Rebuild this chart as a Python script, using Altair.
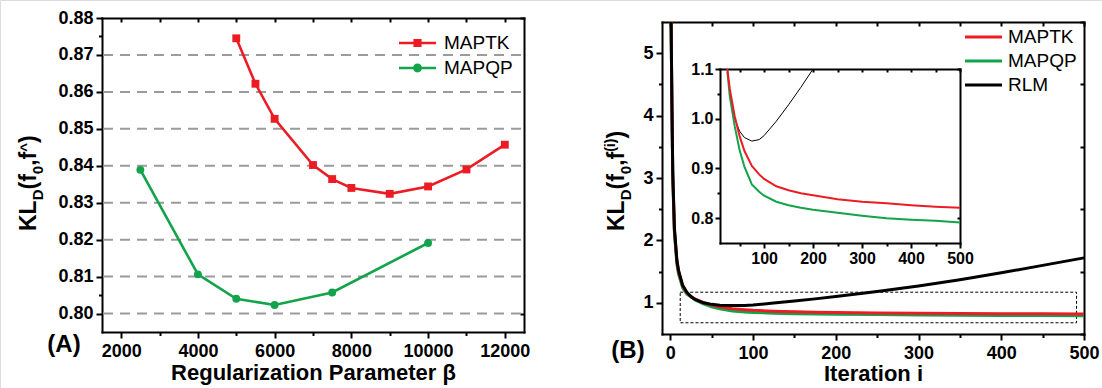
import altair as alt
import pandas as pd

FONT = "Liberation Sans"
RED = "#EC1C24"
GREEN = "#12A34B"
BLACK = "#000000"

# ---------------- Panel A data ----------------
beta_maptk = [5000, 5500, 6000, 7000, 7500, 8000, 9000, 10000, 11000, 12000]
kl_maptk_a = [0.8745, 0.8622, 0.8527, 0.8402, 0.8364, 0.8340, 0.8324, 0.8344, 0.8390, 0.8457]
beta_mapqp = [2500, 4000, 5000, 6000, 7500, 10000]
kl_mapqp_a = [0.8389, 0.8106, 0.8040, 0.8023, 0.8057, 0.8191]
grid_a = [0.80, 0.81, 0.82, 0.83, 0.84, 0.85, 0.86, 0.87]

# ---------------- Panel B data ----------------
iters = [1, 2, 3, 5, 8, 10, 15, 20, 25, 30, 40, 50, 60, 75, 90, 100, 125, 150, 175, 200,
         250, 300, 350, 400, 450, 500]
kl_maptk = [7.5, 4.15, 3.05, 2.16, 1.66, 1.5, 1.27, 1.16, 1.1, 1.06, 1.005, 0.965, 0.935, 0.905,
            0.888, 0.879, 0.864, 0.856, 0.85, 0.846, 0.838, 0.833, 0.83, 0.826, 0.823, 0.821]
kl_mapqp = [7.4, 4.1, 3.0, 2.12, 1.62, 1.46, 1.24, 1.14, 1.095, 1.045, 0.985, 0.937, 0.903, 0.868,
            0.853, 0.845, 0.833, 0.826, 0.821, 0.817, 0.811, 0.805, 0.800, 0.797, 0.795, 0.791]
kl_rlm = [7.6, 4.2, 3.1, 2.2, 1.68, 1.52, 1.28, 1.17, 1.10, 1.055, 1.0, 0.975, 0.962, 0.955,
          0.958, 0.966, 0.995, 1.028, 1.063, 1.10, 1.18, 1.27, 1.37, 1.48, 1.60, 1.72]
series_b = ["MAPTK", "MAPQP", "RLM"]
box_iter = [12, 491]
box_kl = [0.68, 1.17]

# ---------------- scales (pixel ranges place each panel) ----------------
sxA = alt.Scale(domain=[1500, 12500], range=[102, 524], nice=False, zero=False)
syA = alt.Scale(domain=[0.795, 0.88], range=[332, 18], nice=False, zero=False)
sxB = alt.Scale(domain=[-10, 500], range=[662, 1084], nice=False, zero=False)
syB = alt.Scale(domain=[0.5, 5.5], range=[334, 22], nice=False, zero=False, clamp=True)
sxI = alt.Scale(domain=[10, 500], range=[720, 960], nice=False, zero=False)
syI = alt.Scale(domain=[0.75, 1.1], range=[243, 69], nice=False, zero=False)

H = 388
ONE = alt.Data(values=[{}])

AX = dict(domainColor=BLACK, domainWidth=2, domainCap="square", tickColor=BLACK, tickWidth=2,
          labelFont=FONT, labelFontWeight="bold", labelColor=BLACK, labelFontSize=18,
          grid=False, title=None, labelOverlap=False, labelFlush=False, format="d")

layers = []


def axis_layer(vals, channel, scale, **kw):
    opts = dict(AX)
    opts["values"] = vals
    opts.update(kw)
    df = pd.DataFrame({"v": vals})
    if channel == "x":
        enc = {"x": alt.X("v:Q", scale=scale, axis=alt.Axis(**opts))}
    else:
        enc = {"y": alt.Y("v:Q", scale=scale, axis=alt.Axis(**opts))}
    return alt.Chart(df).mark_point(opacity=0).encode(**enc)


# ================= Panel A =================
layers.append(
    alt.Chart(pd.DataFrame({"v": grid_a})).mark_rule(color="#9b9b9b", strokeWidth=2, strokeDash=[10, 7])
    .encode(y=alt.Y("v:Q", scale=syA, axis=None), x=alt.value(103), x2=alt.value(523))
)
dfa_tk = pd.DataFrame({"b": beta_maptk, "k": kl_maptk_a})
dfa_qp = pd.DataFrame({"b": beta_mapqp, "k": kl_mapqp_a})
for df, col, shp, sz in [(dfa_tk, RED, "square", 62), (dfa_qp, GREEN, "circle", 62)]:
    layers.append(alt.Chart(df).mark_line(color=col, strokeWidth=2.6).encode(
        x=alt.X("b:Q", scale=sxA, axis=None), y=alt.Y("k:Q", scale=syA, axis=None)))
    layers.append(alt.Chart(df).mark_point(shape=shp, filled=True, size=sz, color=col, opacity=1).encode(
        x=alt.X("b:Q", scale=sxA, axis=None), y=alt.Y("k:Q", scale=syA, axis=None)))

# axes A
layers.append(axis_layer([2000, 4000, 6000, 8000, 10000, 12000], "x", sxA, orient="bottom", offset=332 - H,
                         tickSize=6, labelPadding=4, title="Regularization Parameter β",
                         titleFont=FONT, titleFontSize=22, titleFontWeight="bold", titleColor=BLACK,
                         titlePadding=2))
layers.append(axis_layer([3000, 5000, 7000, 9000, 11000], "x", sxA, orient="bottom", offset=332 - H,
                         tickSize=3.5, labels=False, domain=False))
layers.append(axis_layer(list(range(2000, 12001, 1000)), "x", sxA, orient="bottom", offset=18 - H,
                         tickSize=4, labels=False))
layers.append(axis_layer([0.80, 0.81, 0.82, 0.83, 0.84, 0.85, 0.86, 0.87, 0.88], "y", syA, orient="left",
                         offset=-102, tickSize=6, labelPadding=3, format=".2f"))
layers.append(axis_layer([0.805, 0.815, 0.825, 0.835, 0.845, 0.855, 0.865, 0.875], "y", syA, orient="left",
                         offset=-102, tickSize=3.5, labels=False, domain=False))
layers.append(axis_layer([round(0.80 + 0.005 * k, 3) for k in range(17)], "y", syA, orient="left",
                         offset=-524, tickSize=4, labels=False))

# legend A
SQ = "M-1,-0.07H1V0.07H-1Z M-0.22,-0.22H0.22V0.22H-0.22Z"
CI = "M-1,-0.07H1V0.07H-1Z M0.24,0A0.24,0.24 0 1,1 -0.24,0A0.24,0.24 0 1,1 0.24,0Z"
legA = alt.Legend(orient="none", legendX=399, legendY=31, title=None, direction="vertical",
                  labelFont=FONT, labelFontSize=19, labelColor=BLACK, symbolSize=1369,
                  symbolStrokeWidth=0, clipHeight=24, rowPadding=1, labelOffset=8, padding=0)
layers.append(
    alt.Chart(pd.DataFrame({"s": ["MAPTK", "MAPQP"]})).transform_filter("false")
    .mark_point(filled=True, size=1369, opacity=1)
    .encode(color=alt.Color("s:N", scale=alt.Scale(domain=["MAPTK", "MAPQP"], range=[RED, GREEN]), legend=legA),
            shape=alt.Shape("s:N", scale=alt.Scale(domain=["MAPTK", "MAPQP"], range=[SQ, CI]), legend=legA))
)

# ================= Panel B =================
dfb = pd.DataFrame({
    "i": iters * 3,
    "k": kl_maptk + kl_mapqp + kl_rlm,
    "s": ["MAPTK"] * len(iters) + ["MAPQP"] * len(iters) + ["RLM"] * len(iters),
})
layers.append(
    alt.Chart(pd.DataFrame({"x0": [box_iter[0]], "x1": [box_iter[1]], "y0": [box_kl[0]], "y1": [box_kl[1]]}))
    .mark_rect(fill="transparent", stroke=BLACK, strokeWidth=1, strokeDash=[3, 2])
    .encode(x=alt.X("x0:Q", scale=sxB, axis=None), x2="x1:Q",
            y=alt.Y("y0:Q", scale=syB, axis=None), y2="y1:Q")
)
for name, col in [("MAPQP", GREEN), ("MAPTK", RED), ("RLM", BLACK)]:
    layers.append(
        alt.Chart(dfb).transform_filter(alt.datum.s == name)
        .mark_line(color=col, strokeWidth=3)
        .encode(x=alt.X("i:Q", scale=sxB, axis=None), y=alt.Y("k:Q", scale=syB, axis=None))
    )

layers.append(axis_layer(list(range(0, 501, 100)), "x", sxB, orient="bottom", offset=334 - H,
                         tickSize=6, labelPadding=4, title="Iteration i",
                         titleFont=FONT, titleFontSize=22, titleFontWeight="bold", titleColor=BLACK,
                         titlePadding=1))
layers.append(axis_layer(list(range(50, 451, 100)), "x", sxB, orient="bottom", offset=334 - H,
                         tickSize=3.5, labels=False, domain=False))
layers.append(axis_layer(list(range(0, 501, 50)), "x", sxB, orient="bottom", offset=22 - H,
                         tickSize=4, labels=False))
layers.append(axis_layer([1, 2, 3, 4, 5], "y", syB, orient="left", offset=-662, tickSize=6,
                         labelPadding=3, format="d"))
layers.append(axis_layer([1.5, 2.5, 3.5, 4.5], "y", syB, orient="left", offset=-662, tickSize=3.5,
                         labels=False, domain=False))
layers.append(axis_layer([0.5 + 0.5 * k for k in range(11)], "y", syB, orient="left", offset=-1084,
                         tickSize=4, labels=False))

# legend B
LN = "M-1,-0.085H1V0.085H-1Z"
legB = alt.Legend(orient="none", legendX=965, legendY=26, title=None, direction="vertical",
                  labelFont=FONT, labelFontSize=19, labelColor=BLACK, symbolSize=1369, symbolType=LN,
                  symbolStrokeWidth=0, clipHeight=22, rowPadding=2, labelOffset=6, padding=0)
layers.append(
    alt.Chart(pd.DataFrame({"s": series_b})).transform_filter("false")
    .mark_point(filled=True, size=1369, opacity=1, shape=LN)
    .encode(color=alt.Color("s:N", scale=alt.Scale(domain=series_b, range=[RED, GREEN, BLACK]), legend=legB))
)

# ================= Inset =================
for name, col, w in [("RLM", BLACK, 1), ("MAPQP", GREEN, 2), ("MAPTK", RED, 2)]:
    layers.append(
        alt.Chart(dfb).transform_filter((alt.datum.s == name) & (alt.datum.k <= 1.1) & (alt.datum.i >= 25))
        .mark_line(color=col, strokeWidth=w)
        .encode(x=alt.X("i:Q", scale=sxI, axis=None), y=alt.Y("k:Q", scale=syI, axis=None))
    )
layers.append(axis_layer([100, 200, 300, 400, 500], "x", sxI, orient="bottom", offset=243 - H,
                         tickSize=5, labelPadding=2, labelFontSize=16))
layers.append(axis_layer([50, 150, 250, 350, 450], "x", sxI, orient="bottom", offset=243 - H,
                         tickSize=3, labels=False, domain=False))
layers.append(axis_layer(list(range(50, 501, 50)), "x", sxI, orient="bottom", offset=69 - H,
                         tickSize=3, labels=False))
layers.append(axis_layer([0.8, 0.9, 1.0, 1.1], "y", syI, orient="left", offset=-720, tickSize=5,
                         labelPadding=2, labelFontSize=16, format=".1f"))
layers.append(axis_layer([0.85, 0.95, 1.05], "y", syI, orient="left", offset=-720, tickSize=3,
                         labels=False, domain=False))
layers.append(axis_layer([0.8, 0.85, 0.9, 0.95, 1.0, 1.05, 1.1], "y", syI, orient="left", offset=-960,
                         tickSize=3, labels=False))

# ================= rotated y titles & panel tags =================
WID = {"K": 0.722, "L": 0.611, "D": 0.722, "(": 0.333, ")": 0.333, "f": 0.333, "0": 0.556,
       ",": 0.278, "^": 0.584, "i": 0.278}


def rot_title(xb, ystart, pieces):
    y = ystart
    out = []
    for txt, fs, shift in pieces:
        out.append(alt.Chart(ONE).mark_text(text=txt, angle=270, align="left", baseline="alphabetic",
                                            font=FONT, fontWeight="bold", fontSize=fs, color=BLACK)
                   .encode(x=alt.value(xb + shift), y=alt.value(y)))
        y -= sum(WID.get(c, 0.55) for c in txt) * fs
    return out


layers += rot_title(36, 231, [("KL", 23, 0), ("D", 15, 7), ("(f", 23, 0), ("0", 15, 7),
                              (",f", 23, 0), ("^", 15, -5), (")", 23, 0)])
layers += rot_title(624, 231, [("KL", 23, 0), ("D", 15, 7), ("(f", 23, 0), ("0", 15, 7),
                               (",f", 23, 0), ("(i)", 14, -9), (")", 23, 0)])

for tag, tx, ty in [("(A)", 64, 345), ("(B)", 628, 351)]:
    layers.append(alt.Chart(ONE).mark_text(text=tag, font=FONT, fontWeight="bold", fontSize=24,
                                           align="center", baseline="middle", color=BLACK)
                  .encode(x=alt.value(tx), y=alt.value(ty)))

chart = (
    alt.layer(*layers)
    .resolve_scale(x="independent", y="independent", color="independent", shape="independent")
    .properties(width=1102, height=388, autosize=alt.AutoSizeParams(type="none"), padding=0)
    .configure_view(stroke=None)
    .configure(background="white")
)

chart.save("out.html", embed_options={"renderer": "svg", "actions": False})
